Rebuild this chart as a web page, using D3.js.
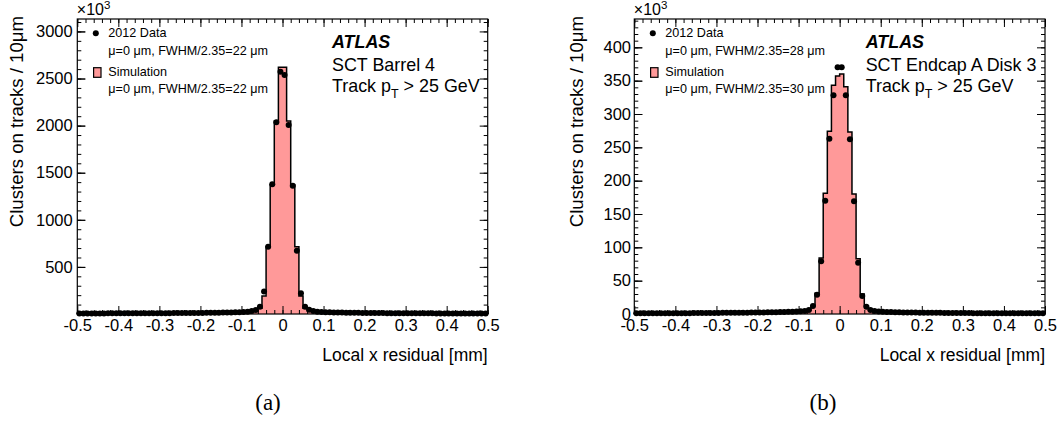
<!DOCTYPE html>
<html><head><meta charset="utf-8">
<script src="https://cdn.jsdelivr.net/npm/d3@7"></script>
<style>body{margin:0;background:#fff} svg{display:block}</style>
</head><body>
<svg id="c" width="1060" height="423"></svg>
<script>
// ---- data (values in units of 10^3 clusters per 10 um bin) ----
const xDomain = [-0.5, 0.5];
const binWidth = 0.01;
const xTickValues = [-0.5,-0.4,-0.3,-0.2,-0.1,0,0.1,0.2,0.3,0.4,0.5];

const barrelData = [6.0,6.1,6.2,6.3,6.4,6.5,6.6,6.7,6.8,6.9, 7.0,7.1,7.2,7.4,7.5,7.7,7.8,8.0,8.2,8.4,
  8.6,8.8,9.0,9.3,9.6,9.9,10.2,10.6,11.0,11.4, 11.9,12.4,13.0,13.6,14.3,15.1,16.0,17.0,18.2,19.6,
  21.5,25,31,42,77,240,714,1377,2035,2572,
  2537,2006,1362,672,220,77,44,31,25,21.3, 19.5,18.0,16.8,15.8,14.9,14.1,13.4,12.8,12.2,11.7,
  11.2,10.7,10.3,9.9,9.5,9.2,8.9,8.6,8.3,8.0, 7.8,7.6,7.4,7.2,7.0,6.9,6.7,6.6,6.5,6.4,
  6.3,6.2,6.1,6.0,5.9,5.8,5.7,5.6,5.5,5.4];
const barrelSim = [5.5,5.6,5.7,5.8,5.9,6.0,6.1,6.2,6.3,6.4, 6.5,6.6,6.7,6.9,7.0,7.2,7.3,7.5,7.7,7.9,
  8.1,8.3,8.5,8.8,9.1,9.4,9.7,10.1,10.5,10.9, 11.4,11.9,12.5,13.1,13.8,14.6,15.5,16.5,17.7,19.1,
  21,24,29,35,60,190,714,1369,2049,2619,
  2619,2049,1369,714,190,60,35,29,24,21, 19.1,17.7,16.5,15.5,14.6,13.8,13.1,12.5,11.9,11.4,
  10.9,10.5,10.1,9.7,9.4,9.1,8.8,8.5,8.3,8.1, 7.9,7.7,7.5,7.3,7.2,7.0,6.9,6.7,6.6,6.5,
  6.4,6.3,6.2,6.1,6.0,5.9,5.8,5.7,5.6,5.5];
const endcapData = [1.0,1.0,1.0,1.1,1.1,1.1,1.1,1.2,1.2,1.2, 1.2,1.3,1.3,1.3,1.4,1.4,1.4,1.5,1.5,1.6,
  1.6,1.7,1.7,1.8,1.8,1.9,2.0,2.0,2.1,2.2, 2.3,2.4,2.5,2.6,2.7,2.9,3.0,3.2,3.4,3.7,
  4.0,4.6,6.0,12,29,79,170,263,328,370,
  370,328,262,169,77,27,11,6.0,4.4,3.8, 3.4,3.1,2.9,2.7,2.5,2.4,2.3,2.2,2.1,2.0,
  1.9,1.9,1.8,1.7,1.7,1.6,1.6,1.5,1.5,1.4, 1.4,1.4,1.3,1.3,1.3,1.2,1.2,1.2,1.2,1.1,
  1.1,1.1,1.1,1.0,1.0,1.0,1.0,1.0,1.0,1.0];
const endcapSim = [0.9,0.9,0.9,1.0,1.0,1.0,1.0,1.1,1.1,1.1, 1.1,1.2,1.2,1.2,1.3,1.3,1.3,1.4,1.4,1.5,
  1.5,1.6,1.6,1.7,1.7,1.8,1.9,1.9,2.0,2.1, 2.2,2.3,2.4,2.5,2.6,2.8,2.9,3.1,3.3,3.6,
  3.9,4.4,5.5,12,31,84,181,274,343,357,
  360,341,273,180,83,30,12,5.5,4.3,3.7, 3.3,3.0,2.8,2.6,2.4,2.3,2.2,2.1,2.0,1.9,
  1.8,1.8,1.7,1.6,1.6,1.5,1.5,1.4,1.4,1.3, 1.3,1.3,1.2,1.2,1.2,1.1,1.1,1.1,1.1,1.0,
  1.0,1.0,1.0,0.9,0.9,0.9,0.9,0.9,0.9,0.9];

const barrelYTicks = [500,1000,1500,2000,2500,3000];
const endcapYTicks = [0,50,100,150,200,250,300,350,400];

const panels = [
  {data: barrelData, sim: barrelSim, yMax: 3132, yTicks: barrelYTicks, yMinorStep: 100,
   x0: 77.3, x1: 487.7, labelPad: 4.6, textX: 332,
   dataLabel: "μ=0 μm, FWHM/2.35=22 μm", simLabel: "μ=0 μm, FWHM/2.35=22 μm",
   region: "SCT Barrel 4", caption: "(a)", captionX: 268, yTitleX: 23},
  {data: endcapData, sim: endcapSim, yMax: 442.5, yTicks: endcapYTicks, yMinorStep: 10,
   x0: 634.3, x1: 1045, labelPad: 3.3, textX: 865.7,
   dataLabel: "μ=0 μm, FWHM/2.35=28 μm", simLabel: "μ=0 μm, FWHM/2.35=30 μm",
   region: "SCT Endcap A Disk 3", caption: "(b)", captionX: 823, yTitleX: 583}
];

const svg = d3.select("#c");
const yTop = 19, yBottom = 314;
const font = "'Liberation Sans', Arial, Helvetica, sans-serif";

panels.forEach(p => {
  const x = d3.scaleLinear().domain(xDomain).range([p.x0, p.x1]);
  const y = d3.scaleLinear().domain([0, p.yMax]).range([yBottom, yTop]);
  const g = svg.append("g");
  const nb = p.data.length;
  const lo = i => xDomain[0] + i * binWidth;

  // simulation histogram (filled step)
  const pts = [];
  p.sim.forEach((v, i) => { pts.push([lo(i), v]); pts.push([lo(i + 1), v]); });
  g.append("path")
    .attr("d", d3.area().x(d => x(d[0])).y0(y(0)).y1(d => y(d[1]))(pts))
    .attr("fill", "#ff9999").attr("stroke", "none");
  const outline = [[lo(0), 0], ...pts, [lo(nb), 0]];
  g.append("path")
    .attr("d", d3.line().x(d => x(d[0])).y(d => y(d[1]))(outline))
    .attr("fill", "none").attr("stroke", "#000").attr("stroke-width", 1.5);

  // data points
  g.selectAll("circle.d").data(p.data).enter().append("circle")
    .attr("cx", (d, i) => x(lo(i) + binWidth / 2)).attr("cy", d => y(d))
    .attr("r", 3).attr("fill", "#000");

  // frame
  g.append("rect").attr("x", p.x0).attr("y", yTop).attr("width", p.x1 - p.x0).attr("height", yBottom - yTop)
    .attr("fill", "none").attr("stroke", "#000").attr("stroke-width", 1.2);

  // axes
  const xMinor = d3.range(-0.5, 0.5001, 0.02);
  const yMinor = d3.range(0, p.yMax, p.yMinorStep);
  const styleAxis = sel => { sel.select(".domain").remove(); sel.selectAll("line").attr("stroke", "#000").attr("stroke-width", 1); sel.selectAll("text").attr("font-family", font).attr("font-size", 16.5).attr("fill", "#000"); };

  g.append("g").attr("transform", `translate(0,${yBottom})`)
    .call(d3.axisBottom(x).tickValues(xTickValues).tickSizeInner(-8).tickSizeOuter(0).tickPadding(5)
      .tickFormat(d => d === 0 ? "0" : d3.format(".1f")(d).replace("−", "-"))).call(styleAxis);
  g.append("g").attr("transform", `translate(0,${yBottom})`)
    .call(d3.axisBottom(x).tickValues(xMinor).tickSizeInner(-4).tickSizeOuter(0).tickFormat("")).call(styleAxis);
  g.append("g").attr("transform", `translate(0,${yTop})`)
    .call(d3.axisTop(x).tickValues(xTickValues).tickSizeInner(-8).tickSizeOuter(0).tickFormat("")).call(styleAxis);
  g.append("g").attr("transform", `translate(0,${yTop})`)
    .call(d3.axisTop(x).tickValues(xMinor).tickSizeInner(-4).tickSizeOuter(0).tickFormat("")).call(styleAxis);

  g.append("g").attr("transform", `translate(${p.x0},0)`)
    .call(d3.axisLeft(y).tickValues(p.yTicks).tickSizeInner(-8).tickSizeOuter(0).tickPadding(p.labelPad)
      .tickFormat(d3.format("d"))).call(styleAxis);
  g.append("g").attr("transform", `translate(${p.x0},0)`)
    .call(d3.axisLeft(y).tickValues(yMinor).tickSizeInner(-4).tickSizeOuter(0).tickFormat("")).call(styleAxis);
  const yMajorAll = d3.range(0, p.yMax, p.yMinorStep * 5);
  g.append("g").attr("transform", `translate(${p.x1},0)`)
    .call(d3.axisRight(y).tickValues(yMajorAll).tickSizeInner(-8).tickSizeOuter(0).tickFormat("")).call(styleAxis);
  g.append("g").attr("transform", `translate(${p.x1},0)`)
    .call(d3.axisRight(y).tickValues(yMinor).tickSizeInner(-4).tickSizeOuter(0).tickFormat("")).call(styleAxis);
  g.append("g").attr("transform", `translate(${p.x0},0)`)
    .call(d3.axisLeft(y).tickValues(yMajorAll).tickSizeInner(-8).tickSizeOuter(0).tickFormat("")).call(styleAxis);

  // x10^3
  const ex = g.append("text").attr("x", p.x0 - 0.5).attr("y", 15).attr("font-family", font).attr("font-size", 16).text("×10");
  ex.append("tspan").attr("dy", -6).attr("font-size", 11.5).text("3");

  // axis titles
  g.append("text").attr("x", p.x1).attr("y", 361).attr("text-anchor", "end")
    .attr("font-family", font).attr("font-size", 17.5).text("Local x residual [mm]");
  g.append("text").attr("transform", `translate(${p.yTitleX},16) rotate(-90)`).attr("text-anchor", "end")
    .attr("font-family", font).attr("font-size", 18.6).text("Clusters on tracks / 10μm");

  // legend
  const lx = p.x0;
  g.append("circle").attr("cx", lx + 18.5).attr("cy", 33.2).attr("r", 3).attr("fill", "#000");
  const lf = 12.6;
  g.append("text").attr("x", lx + 31).attr("y", 37.3).attr("font-family", font).attr("font-size", lf).text("2012 Data");
  g.append("text").attr("x", lx + 31).attr("y", 55).attr("font-family", font).attr("font-size", lf).text(p.dataLabel);
  g.append("rect").attr("x", lx + 16.3).attr("y", 67.7).attr("width", 7.4).attr("height", 9.6)
    .attr("fill", "#ff9999").attr("stroke", "#000").attr("stroke-width", 1.2);
  g.append("text").attr("x", lx + 31).attr("y", 76).attr("font-family", font).attr("font-size", lf).text("Simulation");
  g.append("text").attr("x", lx + 31).attr("y", 93.3).attr("font-family", font).attr("font-size", lf).text(p.simLabel);

  // ATLAS label
  const af = 17.9;
  g.append("text").attr("x", p.textX).attr("y", 48.3).attr("font-family", font).attr("font-size", af)
    .attr("font-weight", "bold").attr("font-style", "italic").text("ATLAS");
  g.append("text").attr("x", p.textX).attr("y", 70.7).attr("font-family", font).attr("font-size", af).text(p.region);
  const tr = g.append("text").attr("x", p.textX).attr("y", 91.7).attr("font-family", font).attr("font-size", af).text("Track p");
  tr.append("tspan").attr("dy", 6).attr("font-size", 12.5).text("T");
  tr.append("tspan").attr("dy", -6).text(" > 25 GeV");

  // caption
  svg.append("text").attr("x", p.captionX).attr("y", 410).attr("text-anchor", "middle")
    .attr("font-family", "'Liberation Serif', 'Times New Roman', serif").attr("font-size", 23).text(p.caption);
});
</script>
</body></html>
